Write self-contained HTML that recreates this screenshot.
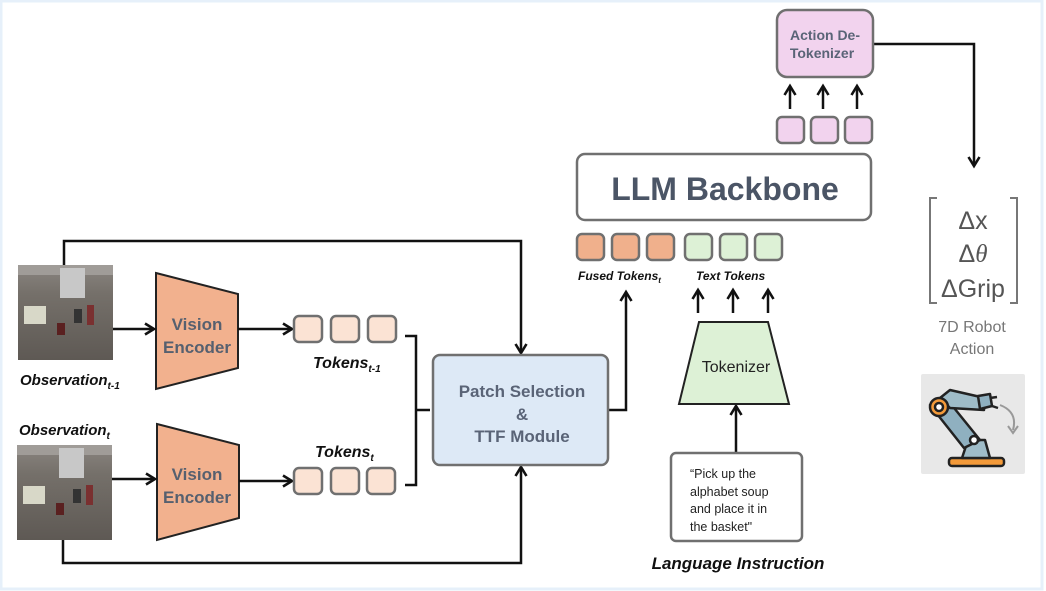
<!DOCTYPE html>
<html><head><meta charset="utf-8"><style>
html,body{margin:0;padding:0;background:#fff}
svg{display:block}
text{font-family:"Liberation Sans",sans-serif}
</style></head><body>
<svg width="1046" height="591" viewBox="0 0 1046 591" xmlns="http://www.w3.org/2000/svg">
<defs>
<marker id="ah" markerWidth="14" markerHeight="14" refX="10" refY="7" orient="auto" markerUnits="userSpaceOnUse">
<path d="M1,1.5 L10,7 L1,12.5" fill="none" stroke="#111" stroke-width="2.6"/>
</marker>
<linearGradient id="floor" x1="0" y1="0" x2="0" y2="1"><stop offset="0" stop-color="#8a8580"/><stop offset="0.3" stop-color="#75706a"/><stop offset="1" stop-color="#5e5954"/></linearGradient>
</defs>
<rect x="1" y="1" width="1041" height="588" fill="none" stroke="#e6f0fa" stroke-width="3"/>

<g>
<rect x="18" y="265" width="95" height="95" fill="url(#floor)"/>
<rect x="18" y="265" width="95" height="10" fill="#a09c98"/>
<rect x="60" y="268" width="25" height="30" fill="#c8c8c8"/>
<rect x="24" y="306" width="22" height="18" fill="#d8d8c8"/>
<rect x="57" y="323" width="8" height="12" fill="#5a2020"/>
<rect x="74" y="309" width="8" height="14" fill="#333"/>
<rect x="87" y="305" width="7" height="20" fill="#7a3030"/>
</g>
<g>
<rect x="17" y="445" width="95" height="95" fill="url(#floor)"/>
<rect x="17" y="445" width="95" height="10" fill="#a09c98"/>
<rect x="59" y="448" width="25" height="30" fill="#c8c8c8"/>
<rect x="23" y="486" width="22" height="18" fill="#d8d8c8"/>
<rect x="56" y="503" width="8" height="12" fill="#5a2020"/>
<rect x="73" y="489" width="8" height="14" fill="#333"/>
<rect x="86" y="485" width="7" height="20" fill="#7a3030"/>
</g>
<text x="20" y="385" font-size="15" font-weight="bold" font-style="italic" fill="#111">Observation<tspan font-size="10" dy="4">t-1</tspan></text>
<text x="19" y="435" font-size="15" font-weight="bold" font-style="italic" fill="#111">Observation<tspan font-size="10" dy="4">t</tspan></text>

<polygon points="156,273 238,294 238,368 156,389" fill="#f2b18e" stroke="#222" stroke-width="2"/>
<polygon points="157,424 239,445 239,518 157,540" fill="#f2b18e" stroke="#222" stroke-width="2"/>
<g font-size="17" font-weight="bold" fill="#56606f" text-anchor="middle">
<text x="197" y="330">Vision</text><text x="197" y="353">Encoder</text>
<text x="197" y="480">Vision</text><text x="197" y="503">Encoder</text>
</g>
<g stroke="#111" stroke-width="2.5" fill="none">
<line x1="113" y1="329" x2="154" y2="329" marker-end="url(#ah)"/>
<line x1="112" y1="479" x2="155" y2="479" marker-end="url(#ah)"/>
<line x1="238" y1="329" x2="292" y2="329" marker-end="url(#ah)"/>
<line x1="239" y1="481" x2="292" y2="481" marker-end="url(#ah)"/>
<path d="M64,265 V241 H521 V353" marker-end="url(#ah)"/>
<path d="M63,540 V563 H521 V467" marker-end="url(#ah)"/>
<path d="M608,410 H626 V292" marker-end="url(#ah)"/>
<path d="M873,44 H974 V166" marker-end="url(#ah)"/>
<line x1="790" y1="109" x2="790" y2="86" marker-end="url(#ah)"/>
<line x1="823" y1="109" x2="823" y2="86" marker-end="url(#ah)"/>
<line x1="857" y1="109" x2="857" y2="86" marker-end="url(#ah)"/>
<line x1="698" y1="313" x2="698" y2="290" marker-end="url(#ah)"/>
<line x1="733" y1="313" x2="733" y2="290" marker-end="url(#ah)"/>
<line x1="768" y1="313" x2="768" y2="290" marker-end="url(#ah)"/>
<line x1="736" y1="452" x2="736" y2="406" marker-end="url(#ah)"/>
<path d="M405,336 H416 V485 H405 M416,410 H430" stroke-width="2.5"/>
</g>

<g stroke="#707070" stroke-width="2.5">
<g fill="#fbe3d4">
<rect x="294" y="316" width="28" height="26" rx="5"/><rect x="331" y="316" width="28" height="26" rx="5"/><rect x="368" y="316" width="28" height="26" rx="5"/>
<rect x="294" y="468" width="28" height="26" rx="5"/><rect x="331" y="468" width="28" height="26" rx="5"/><rect x="367" y="468" width="28" height="26" rx="5"/>
</g>
<g fill="#f0b08c">
<rect x="577" y="234" width="27" height="26" rx="5"/><rect x="612" y="234" width="27" height="26" rx="5"/><rect x="647" y="234" width="27" height="26" rx="5"/>
</g>
<g fill="#ddf1d6">
<rect x="685" y="234" width="27" height="26" rx="5"/><rect x="720" y="234" width="27" height="26" rx="5"/><rect x="755" y="234" width="27" height="26" rx="5"/>
</g>
<g fill="#f2d3ee">
<rect x="777" y="117" width="27" height="26" rx="5"/><rect x="811" y="117" width="27" height="26" rx="5"/><rect x="845" y="117" width="27" height="26" rx="5"/>
</g>
</g>
<text x="313" y="368" font-size="16" font-weight="bold" font-style="italic" fill="#111">Tokens<tspan font-size="10" dy="4">t-1</tspan></text>
<text x="315" y="457" font-size="16" font-weight="bold" font-style="italic" fill="#111">Tokens<tspan font-size="10" dy="4">t</tspan></text>
<text x="578" y="280" font-size="12" font-weight="bold" font-style="italic" fill="#111">Fused Tokens<tspan font-size="8" dy="3">t</tspan></text>
<text x="696" y="280" font-size="12" font-weight="bold" font-style="italic" fill="#111">Text Tokens</text>

<rect x="433" y="355" width="175" height="110" rx="7" fill="#dde9f6" stroke="#707070" stroke-width="2.5"/>
<g font-size="17" font-weight="bold" fill="#5a6477" text-anchor="middle">
<text x="522" y="397">Patch Selection</text><text x="522" y="420">&amp;</text><text x="522" y="442">TTF Module</text>
</g>

<rect x="577" y="154" width="294" height="66" rx="8" fill="#fff" stroke="#707070" stroke-width="2.5"/>
<text x="725" y="200" font-size="32" font-weight="bold" fill="#4b5566" text-anchor="middle">LLM Backbone</text>

<rect x="777" y="10" width="96" height="67" rx="10" fill="#f2d3ee" stroke="#707070" stroke-width="2.5"/>
<g font-size="14" font-weight="bold" fill="#5a6477" text-anchor="middle">
<text x="825" y="40">Action De-</text><text x="822" y="58">Tokenizer</text>
</g>

<polygon points="699,322 768,322 789,404 679,404" fill="#ddf1d6" stroke="#222" stroke-width="2"/>
<text x="736" y="372" font-size="16" fill="#222" text-anchor="middle">Tokenizer</text>

<rect x="671" y="453" width="131" height="88" rx="5" fill="#fff" stroke="#707070" stroke-width="2.5"/>
<g font-size="12.5" fill="#222">
<text x="690" y="478">“Pick up the</text><text x="690" y="496">alphabet soup</text><text x="690" y="513">and place it in</text><text x="690" y="531">the basket"</text>
</g>
<text x="738" y="569" font-size="17" font-weight="bold" font-style="italic" fill="#111" text-anchor="middle">Language Instruction</text>

<path d="M937,198 H930 V303 H937 M1010,198 H1017 V303 H1010" fill="none" stroke="#777" stroke-width="2"/>
<g font-size="25" fill="#555" text-anchor="middle">
<text x="973" y="229">Δx</text>
<text x="973" y="262">Δ<tspan font-family="Liberation Serif" font-style="italic">θ</tspan></text>
<text x="973" y="297">ΔGrip</text>
</g>
<g font-size="16" fill="#777" text-anchor="middle">
<text x="972" y="332">7D Robot</text><text x="972" y="354">Action</text>
</g>

<rect x="921" y="374" width="104" height="100" rx="2" fill="#e8e8e8"/>
<g stroke="#222" stroke-width="2.5" stroke-linejoin="round">
<rect x="949" y="458" width="55" height="8" rx="3" fill="#f39a3a"/>
<polygon points="962,458 990,458 985,440 968,440" fill="#9fbcc8"/>
<polygon points="930,405 946,398 980,440 964,448" fill="#8fb0c0"/>
<polygon points="940,398 950,390 985,398 984,410 950,408" fill="#9fbcc8"/>
<polygon points="978,396 990,394 992,406 980,409" fill="#8fb0c0"/>
<circle cx="939" cy="407" r="9" fill="#f39a3a"/>
<circle cx="939" cy="407" r="4" fill="#fff"/>
<circle cx="974" cy="440" r="4" fill="#fff"/>
<path d="M990,398 L997,397 M992,406 L998,408" fill="none"/>
</g>
<path d="M1000,405 Q1018,412 1013,430" fill="none" stroke="#999" stroke-width="2"/>
<path d="M1008,426 L1013,433 L1018,426" fill="none" stroke="#999" stroke-width="2"/>
</svg>
</body></html>
